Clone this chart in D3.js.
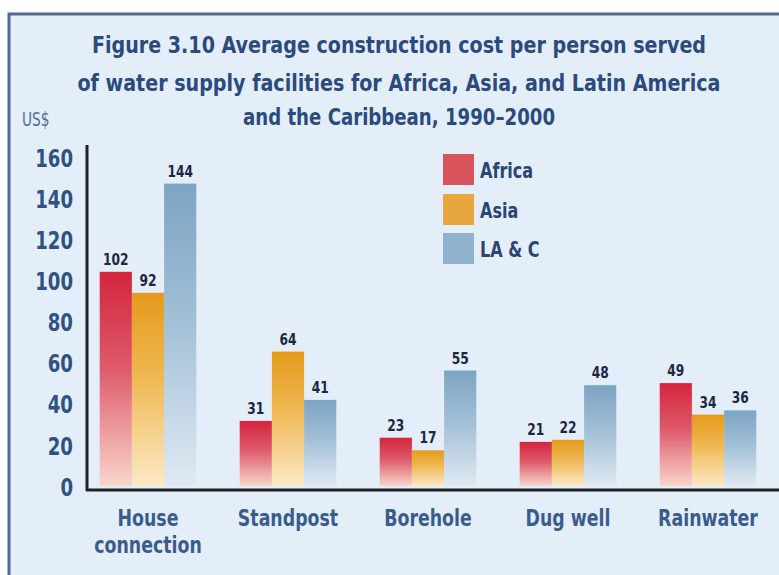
<!DOCTYPE html>
<html>
<head>
<meta charset="utf-8">
<script src="https://cdn.jsdelivr.net/npm/d3@7"></script>
<style>
    body { margin: 0; background: #fff; }
    svg { display: block; }
    text { font-family: "Liberation Sans Narrow", "DejaVu Sans Condensed", "Roboto Condensed", sans-serif; font-weight: bold; }
</style>
</head>
<body>
<div id="chart"></div>
<script>
    var categories = ["House connection", "Standpost", "Borehole", "Dug well", "Rainwater"];
    var seriesNames = ["Africa", "Asia", "LA & C"];
    var africa = [102, 31, 23, 21, 49];
    var asia = [92, 64, 17, 22, 34];
    var lac = [144, 41, 55, 48, 36];
    var yTicks = [0, 20, 40, 60, 80, 100, 120, 140, 160];
    var titleLines = [
        "Figure 3.10  Average construction cost per person served",
        "of water supply facilities for Africa, Asia, and Latin America",
        "and the Caribbean, 1990\u20132000"
    ];

    var width = 779, height = 575;
    var series = [africa, asia, lac];
    var shades = [
        { top: "#d3253e", mid: "#de5a6a", bottom: "#f9d6cc", swatch: "#d9535a" },
        { top: "#e59a1c", mid: "#efb955", bottom: "#fce9c6", swatch: "#e8a63e" },
        { top: "#7ca4c3", mid: "#a2bfd6", bottom: "#dfe9f3", swatch: "#8fb3cf" }
    ];

    var svg = d3.select("#chart").append("svg")
        .attr("width", width)
        .attr("height", height);

    var defs = svg.append("defs");
    shades.forEach(function(s, i){
        var g = defs.append("linearGradient")
            .attr("id", "grad" + i)
            .attr("x1", 0).attr("y1", 0).attr("x2", 0).attr("y2", 1);
        g.append("stop").attr("offset", "0%").attr("stop-color", s.top);
        g.append("stop").attr("offset", "45%").attr("stop-color", s.mid);
        g.append("stop").attr("offset", "100%").attr("stop-color", s.bottom);
    });

    // panel
    svg.append("rect")
        .attr("x", 9).attr("y", 14)
        .attr("width", 820).attr("height", 620)
        .attr("fill", "#e4eef9")
        .attr("stroke", "#4d6b98")
        .attr("stroke-width", 3);

    // title
    var titleWidths = [614, 643, 312];
    svg.selectAll(".title")
        .data(titleLines)
        .enter().append("text")
        .attr("class", "title")
        .attr("x", 399)
        .attr("y", function(d, i){ return [53, 91, 125][i]; })
        .attr("text-anchor", "middle")
        .attr("textLength", function(d, i){ return titleWidths[i]; })
        .attr("lengthAdjust", "spacingAndGlyphs")
        .attr("font-size", 23)
        .attr("fill", "#2b4a7e")
        .text(function(d){ return d; });

    svg.append("text")
        .attr("transform", "translate(22,126) scale(0.8,1)")
        .attr("font-size", 19)
        .attr("fill", "#4f6f9c")
        .style("font-weight", "normal")
        .text("US$");

    var x0 = d3.scaleBand()
        .domain(categories)
        .range([78, 778])
        .paddingInner(0.31)
        .paddingOuter(0.155);

    var x1 = d3.scaleBand()
        .domain(d3.range(series.length))
        .range([0, x0.bandwidth()]);

    var y = d3.scaleLinear().domain([0, 160]).range([486, 150]);
    var yLabel = d3.scaleLinear().domain([0, 160]).range([487, 158]);

    // y tick labels
    svg.selectAll(".ytick")
        .data(yTicks)
        .enter().append("text")
        .attr("class", "ytick")
        .attr("transform", function(d){ return "translate(73," + yLabel(d) + ") scale(0.84,1)"; })
        .attr("dy", "0.36em")
        .attr("text-anchor", "end")
        .attr("font-size", 24)
        .attr("fill", "#2f5283")
        .text(function(d){ return d; });

    // bars
    var groups = svg.selectAll(".group")
        .data(categories)
        .enter().append("g")
        .attr("class", "group")
        .attr("transform", function(d){ return "translate(" + x0(d) + ",0)"; });

    groups.selectAll("rect")
        .data(function(d, ci){ return series.map(function(s, si){ return { si: si, v: s[ci] }; }); })
        .enter().append("rect")
        .attr("x", function(d){ return x1(d.si); })
        .attr("width", x1.bandwidth())
        .attr("y", function(d){ return y(d.v); })
        .attr("height", function(d){ return y(0) - y(d.v); })
        .attr("fill", function(d){ return "url(#grad" + d.si + ")"; });

    groups.selectAll(".val")
        .data(function(d, ci){ return series.map(function(s, si){ return { si: si, v: s[ci] }; }); })
        .enter().append("text")
        .attr("class", "val")
        .attr("transform", function(d){
            return "translate(" + (x1(d.si) + x1.bandwidth() / 2) + "," + (y(d.v) - 7) + ") scale(0.85,1)";
        })
        .attr("text-anchor", "middle")
        .attr("font-size", 16)
        .attr("fill", "#1c2743")
        .text(function(d){ return d.v; });

    // axes lines
    svg.append("line")
        .attr("x1", 87).attr("x2", 87)
        .attr("y1", 145).attr("y2", y(0) + 5)
        .attr("stroke", "#1e2226").attr("stroke-width", 3);
    svg.append("line")
        .attr("x1", 86).attr("x2", width)
        .attr("y1", y(0) + 4).attr("y2", y(0) + 4)
        .attr("stroke", "#1e2226").attr("stroke-width", 3);

    // category labels
    var catText = svg.selectAll(".cat")
        .data(categories)
        .enter().append("text")
        .attr("class", "cat")
        .attr("text-anchor", "middle")
        .attr("font-size", 23)
        .attr("fill", "#3a5c8d")
        .attr("transform", function(d){ return "translate(" + (x0(d) + x0.bandwidth() / 2) + ",526) scale(0.84,1)"; });

    catText.each(function(d){
        var words = d === "House connection" ? ["House", "connection"] : [d];
        d3.select(this).selectAll("tspan")
            .data(words)
            .enter().append("tspan")
            .attr("x", 0)
            .attr("dy", function(w, i){ return i ? 27 : 0; })
            .text(function(w){ return w; });
    });

    // legend
    var legend = svg.selectAll(".legend")
        .data(seriesNames)
        .enter().append("g")
        .attr("class", "legend")
        .attr("transform", function(d, i){ return "translate(443," + [154, 194, 233][i] + ")"; });

    legend.append("rect")
        .attr("width", 31).attr("height", 31)
        .attr("fill", function(d, i){ return shades[i].swatch; });

    legend.append("text")
        .attr("transform", "translate(37,16) scale(0.85,1)")
        .attr("dy", "0.36em")
        .attr("font-size", 21)
        .attr("fill", "#2a4574")
        .text(function(d){ return d; });
</script>
</body>
</html>
